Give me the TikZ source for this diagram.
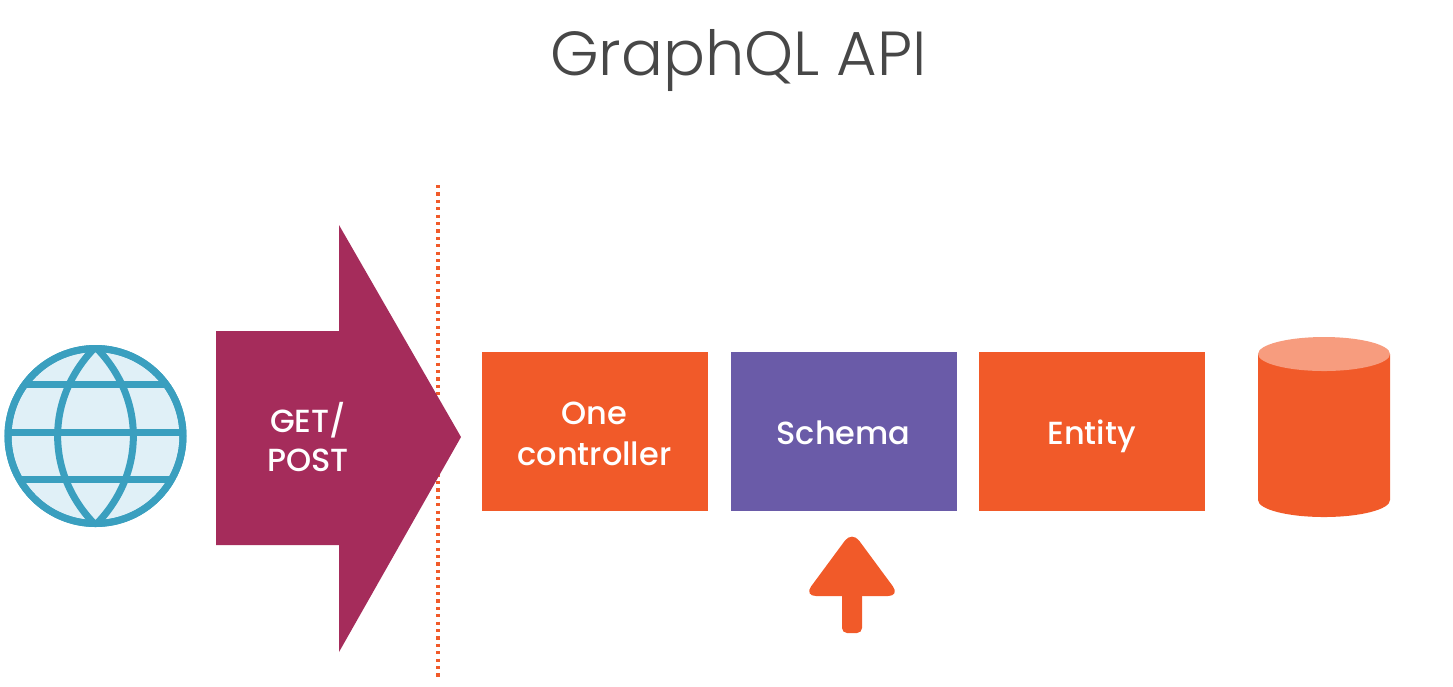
\documentclass[tikz,border=0pt]{standalone}
\usepackage{fontspec}
\usetikzlibrary{positioning}
\setmainfont{Poppins Medium}
\newfontfamily\titlefont{Poppins Light}
\definecolor{fireorange}{HTML}{F15A29}
\definecolor{schemapurple}{HTML}{6A5BA8}
\definecolor{getmagenta}{HTML}{A52C5B}
\definecolor{globeteal}{HTML}{3A9FBF}
\definecolor{globefill}{HTML}{E0F0F7}
\definecolor{cylindertop}{HTML}{F79C7E}
\tikzset{
  layerbox/.style={minimum width=2.26cm, minimum height=1.59cm, inner sep=0pt, outer sep=0pt},
  whitetext/.style={text=white, align=center, inner sep=0pt, font=\fontsize{9.1}{11.6}\selectfont},
  globeline/.style={globeteal, line width=0.07cm},
}
\begin{document}
\begin{tikzpicture}
  \useasboundingbox (0,0) rectangle (14.53,-6.86);
  \node[text=black!72, font=\titlefont\fontsize{17.7}{22}\selectfont] (title) at (7.385,-0.6) {GraphQL API};
  % Dotted boundary
  \draw[fireorange, line width=0.032cm, dash pattern=on 0.032cm off 0.042cm] (4.38,-1.85) -- (4.38,-6.79);
  % Globe
  \draw[globeline, fill=globefill] (0.955,-4.36) circle (0.875);
  \begin{scope}
    \clip (0.955,-4.36) circle (0.875);
    \foreach \y in {-3.84,-4.32,-4.79} \draw[globeline] (0,\y) -- (2,\y);
    \foreach \x in {0.45,1.46} \draw[globeline] (0.955,-3.47) .. controls (\x,-3.98) and (\x,-4.74) .. (0.955,-5.25);
  \end{scope}
  \draw[globeline] (0.955,-4.36) circle (0.875);
  % Big arrow
  \fill[getmagenta] (2.16,-3.31) -- (3.39,-3.31) -- (3.39,-2.25) -- (4.61,-4.37) -- (3.39,-6.52) -- (3.39,-5.45) -- (2.16,-5.45) -- cycle;
  \node[whitetext, font=\fontsize{9.1}{11.1}\selectfont] (getpost) at (3.08,-4.37) {GET/\\POST};
  % Layers
  \node[layerbox, fill=fireorange] (controller) at (5.945,-4.315) {};
  \node[layerbox, fill=schemapurple, right=0.23cm of controller] (schema) {};
  \node[layerbox, fill=fireorange, right=0.22cm of schema] (entity) {};
  \node[whitetext, yshift=-0.02cm] (controllertext) at (controller) {One\\controller};
  \node[whitetext, anchor=base, yshift=-0.13cm] (schematext) at (schema) {Schema};
  \node[whitetext, anchor=base, yshift=-0.13cm] (entitytext) at (entity) {Entity};
  % Database
  \fill[fireorange] (12.58,-3.54) -- (12.58,-5.0) arc[start angle=180, end angle=360, x radius=0.66, y radius=0.17] -- (13.9,-3.54) -- cycle;
  \fill[cylindertop] (13.24,-3.54) ellipse (0.66 and 0.17);
  % Small arrow
  \fill[fireorange, rounded corners=0.12cm] (8.52,-5.31) -- (9.0,-5.96) -- (8.04,-5.96) -- cycle;
  \fill[fireorange, rounded corners=0.05cm] (8.42,-5.8) rectangle (8.62,-6.33);
\end{tikzpicture}
\end{document}
